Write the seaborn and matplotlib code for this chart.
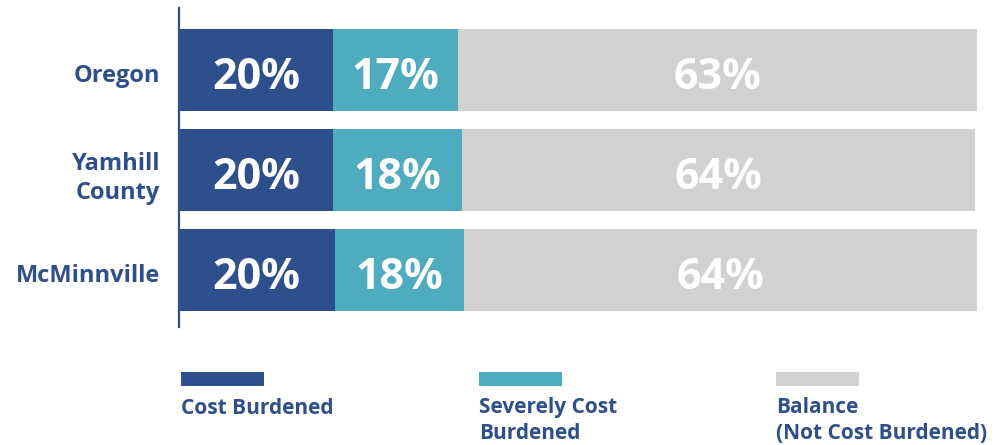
import matplotlib
matplotlib.use("Agg")
import matplotlib.pyplot as plt
from matplotlib.patches import Rectangle
import seaborn as sns
import pandas as pd
import numpy as np

# ---- data ----
categories = ["Oregon", "Yamhill\nCounty", "McMinnville"]
cost_burdened = [19.3, 19.3, 19.5]          # bar widths (% of row)
severely_burdened = [15.7, 16.2, 16.2]
balance = [65.0, 64.3, 64.3]
cost_labels = ["20%", "20%", "20%"]
severe_labels = ["17%", "18%", "18%"]
balance_labels = ["63%", "64%", "64%"]
series_names = ["Cost Burdened", "Severely Cost\nBurdened", "Balance\n(Not Cost Burdened)"]

# ---- style ----
sns.set_style("white")
plt.rcParams["font.family"] = ["Open Sans", "DejaVu Sans"]
DARK = "#2D4F8B"
TEAL = "#4FACBE"
GRAY = "#D1D1D1"
TEXT = "#2E4F8A"
colors = [DARK, TEAL, GRAY]

W, H = 996, 445
fig = plt.figure(figsize=(W / 100, H / 100), dpi=100)
ax = fig.add_axes([179 / W, 1 - 327 / H, (977 - 179) / W, (327 - 8) / H])

df = pd.DataFrame({
    "cat": categories,
    "c1": cost_burdened,
    "c2": severely_burdened,
    "c3": balance,
})
df["cum1"] = df["c1"]
df["cum2"] = df["c1"] + df["c2"]
df["cum3"] = df["c1"] + df["c2"] + df["c3"]

# draw cumulative layers back to front
for col, color in [("cum3", GRAY), ("cum2", TEAL), ("cum1", DARK)]:
    sns.barplot(data=df, x=col, y="cat", order=categories, color=color,
                width=0.82, linewidth=0, saturation=1, ax=ax, orient="h")

ax.set_xlim(0, 100)
ax.set_ylim(2.57, -0.62)
ax.set_xlabel("")
ax.set_ylabel("")
ax.set_xticks([])
ax.set_yticks([])
for s in ["top", "right", "bottom"]:
    ax.spines[s].set_visible(False)
ax.spines["left"].set_color(TEXT)
ax.spines["left"].set_linewidth(1.6)

# segment value labels
for i in range(len(categories)):
    starts = [0, df["cum1"][i], df["cum2"][i]]
    widths = [df["c1"][i], df["c2"][i], df["c3"][i]]
    labs = [cost_labels[i], severe_labels[i], balance_labels[i]]
    for s0, w, lab in zip(starts, widths, labs):
        ax.text(s0 + w / 2, i + 0.19, lab, ha="center", va="baseline",
                color="white", fontsize=31, fontweight="bold")

# category labels (va=baseline aligns the last line)
ytr = ax.get_yaxis_transform()
for i, cat in enumerate(categories):
    yoff = 0.29 if "\n" in cat else 0.125
    ax.text(-19 / 798, i + yoff, cat, transform=ytr, ha="right", va="baseline",
            color=TEXT, fontsize=17, fontweight="bold", linespacing=1.3)

# legend
leg_x = [181, 479, 776]
for x0, name, color in zip(leg_x, series_names, colors):
    fig.patches.append(Rectangle((x0 / W, 1 - 386 / H), 83 / W, 14 / H,
                                 transform=fig.transFigure, color=color, lw=0))
    nlines = name.count("\n")
    fig.text(x0 / W, 1 - (414 + 25 * nlines) / H, name, ha="left", va="baseline",
             color=TEXT, fontsize=15, fontweight="bold", linespacing=1.3)

fig.savefig("out.png", dpi=100)
